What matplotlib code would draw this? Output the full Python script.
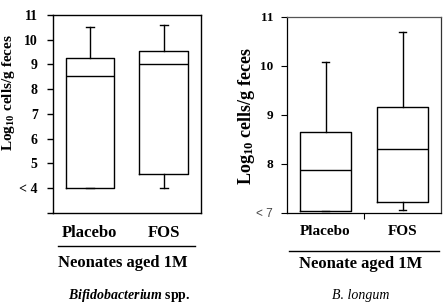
import matplotlib
matplotlib.use('Agg')
import matplotlib.pyplot as plt
from matplotlib.lines import Line2D

plt.rcParams['font.family'] = 'Liberation Serif'
plt.rcParams['font.weight'] = 'bold'
plt.rcParams['axes.labelweight'] = 'bold'
plt.rcParams['mathtext.fontset'] = 'custom'
plt.rcParams['mathtext.rm'] = 'Liberation Serif:bold'
plt.rcParams['mathtext.it'] = 'Liberation Serif:bold:italic'
plt.rcParams['mathtext.bf'] = 'Liberation Serif:bold'

# Box statistics (log10 cells / g feces)
groups = ['Placebo', 'FOS']

# left panel: Bifidobacterium spp., neonates aged 1M
bif_low = [4.0, 4.0]
bif_q1 = [4.0, 4.58]
bif_med = [8.54, 9.0]
bif_q3 = [9.28, 9.54]
bif_high = [10.5, 10.58]

# right panel: B. longum, neonate aged 1M
bl_low = [7.04, 7.06]
bl_q1 = [7.04, 7.22]
bl_med = [7.87, 8.31]
bl_q3 = [8.66, 9.16]
bl_high = [10.07, 10.69]


def stats(low, q1, med, q3, high):
    return [dict(whislo=a, q1=b, med=c, q3=d, whishi=e, fliers=[])
            for a, b, c, d, e in zip(low, q1, med, q3, high)]


line = dict(color='black', linewidth=1.0)

fig = plt.figure(figsize=(4.46, 3.07), dpi=100)

# ---- left panel
ax1 = fig.add_axes([0.1188, 0.307, 0.331, 0.644])
ax1.bxp(stats(bif_low, bif_q1, bif_med, bif_q3, bif_high), positions=[1, 2],
        widths=0.66, capwidths=0.11, showfliers=False,
        boxprops=line, medianprops=line, whiskerprops=line, capprops=line)
ax1.set_xlim(0.5, 2.5)
ax1.set_ylim(3, 11)
ax1.set_yticks([3, 4, 5, 6, 7, 8, 9, 10, 11],
               ['', '< 4', '5', '6', '7', '8', '9', '10', '11'])
ax1.tick_params(axis='y', labelsize=10, length=4, width=1, pad=7)
ax1.set_xticks([1, 2], groups)
ax1.tick_params(axis='x', labelsize=12, length=0, pad=9)
ax1.set_ylabel('Log$_{10}$ cells/g feces', fontsize=11, va='center')
ax1.yaxis.set_label_coords(-0.298, 0.608)
for s in ax1.spines.values():
    s.set_linewidth(1.0)

# ---- right panel
ax2 = fig.add_axes([0.6435, 0.3062, 0.3453, 0.639])
ax2.bxp(stats(bl_low, bl_q1, bl_med, bl_q3, bl_high), positions=[1, 2],
        widths=0.66, capwidths=0.1, showfliers=False,
        boxprops=line, medianprops=line, whiskerprops=line, capprops=line)
ax2.set_xlim(0.5, 2.5)
ax2.set_ylim(7, 11)
ax2.set_yticks([7, 8, 9, 10, 11], ['< 7', '8', '9', '10', '11'])
ax2.tick_params(axis='y', labelsize=9.5, length=4, width=0.8, pad=6)
lbl = ax2.get_yticklabels()[0]
lbl.set_fontweight('normal')
lbl.set_fontfamily('Liberation Sans')
lbl.set_fontsize(8.5)
lbl.set_color('#444444')
ax2.set_xticks([1.5], [''])
ax2.tick_params(axis='x', which='major', length=4, width=0.8)
ax2.set_xticks([1, 2], groups, minor=True)
ax2.tick_params(axis='x', which='minor', labelsize=11, length=0, pad=9)
ax2.set_ylabel('Log$_{10}$ cells/g feces', fontsize=13, va='center')
ax2.yaxis.set_label_coords(-0.263, 0.494)
for s in ax2.spines.values():
    s.set_linewidth(0.9)
ax2.spines['top'].set_color('#555555')
ax2.spines['right'].set_color('#333333')

# group underlines and captions
fig.add_artist(Line2D([58 / 446, 195 / 446], [1 - 246 / 307, 1 - 246 / 307],
                      color='black', linewidth=1.0))
fig.add_artist(Line2D([289 / 446, 439 / 446], [1 - 251 / 307, 1 - 251 / 307],
                      color='black', linewidth=1.0))
fig.text(123 / 446, 1 - 263 / 307, 'Neonates aged 1M', fontsize=12,
         ha='center', va='center')
fig.text(361 / 446, 1 - 264 / 307, 'Neonate aged 1M', fontsize=12,
         ha='center', va='center')
fig.text(129 / 446, 1 - 296 / 307, r'$\mathit{Bifidobacterium}$ spp.',
         fontsize=10, ha='center', va='center')
fig.text(361 / 446, 1 - 295 / 307, 'B. longum', fontsize=10, style='italic',
         fontweight='normal', ha='center', va='center')

fig.savefig('out.png', dpi=100)
